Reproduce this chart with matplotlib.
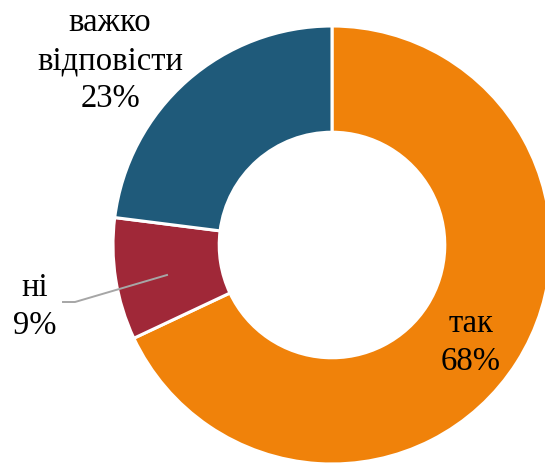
import matplotlib
matplotlib.use('Agg')
import matplotlib.pyplot as plt

# дані
labels = ['так', 'ні', 'важко\nвідповісти']
values = [68, 9, 23]
colors = ['#F0820A', '#A02838', '#1F5A7A']

plt.rcParams['font.family'] = ['Liberation Serif', 'DejaVu Serif']

fig = plt.figure(figsize=(5.45, 4.64), dpi=100)
# центр кола ~ (332, 246) px, радіус ~219 px
R = 219
cx, cy = 332, 246
ax = fig.add_axes([(cx - R) / 545, (464 - cy - R) / 464, 2 * R / 545, 2 * R / 464])

wedges, _ = ax.pie(values, colors=colors, startangle=90, counterclock=False,
                   radius=1, wedgeprops=dict(width=0.485, edgecolor='white', linewidth=2.2))
ax.set_xlim(-1, 1)
ax.set_ylim(-1, 1)
ax.set_aspect('equal')
ax.axis('off')

def px(x, y):
    return (x - cx) / R, (cy - y) / R

fs = 23.5
pos = [px(471, 343), px(35, 307), px(110, 61)]
for lab, v, p in zip(labels, values, pos):
    ax.text(p[0], p[1], lab + '\n' + str(v) + '%', ha='center', va='center',
            fontsize=fs, linespacing=1.31, color='black', clip_on=False)

# лінія-виноска для "ні"
lx, ly = zip(px(63, 303), px(75, 303), px(167, 276))
ax.plot(lx, ly, color='#A6A6A6', linewidth=1.4, clip_on=False)

fig.savefig('out.png', dpi=100)
